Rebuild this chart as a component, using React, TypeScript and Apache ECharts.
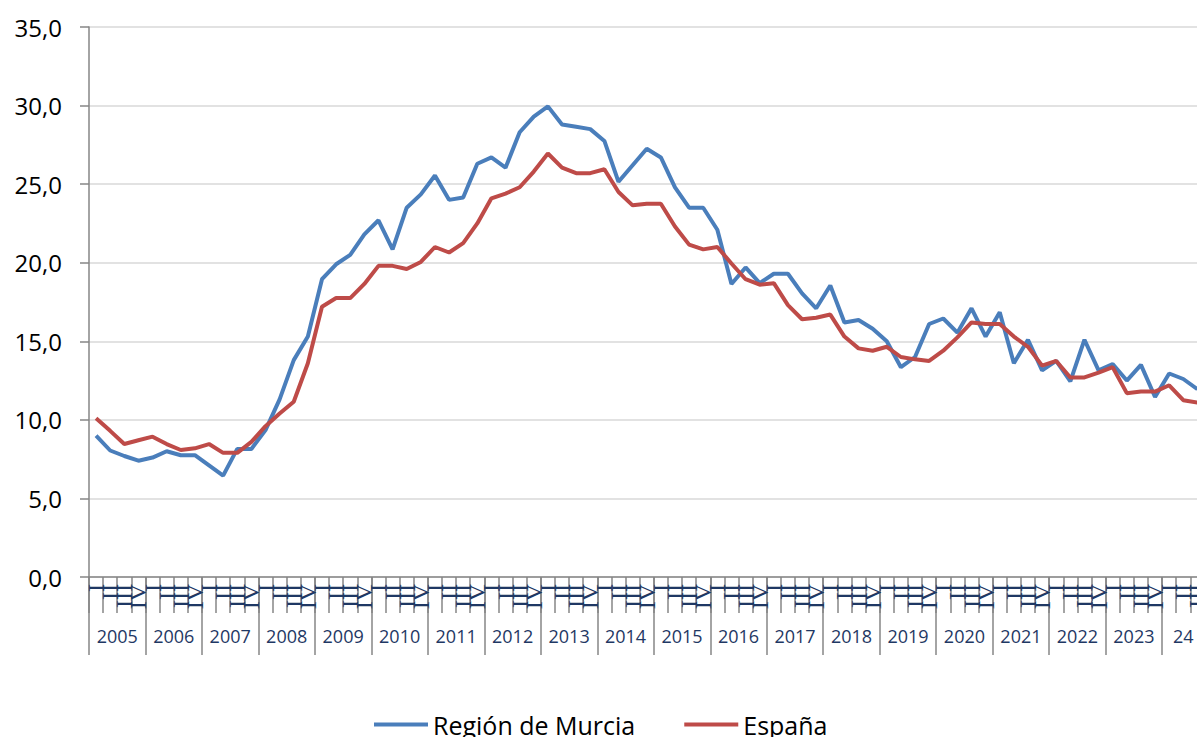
import React, { useEffect, useRef } from "react";
import * as echarts from "echarts";

const quarterLabels = ["I", "II", "III", "IV"];
const yearLabels = [
  "2005", "2006", "2007", "2008", "2009", "2010", "2011", "2012", "2013", "2014",
  "2015", "2016", "2017", "2018", "2019", "2020", "2021", "2022", "2023", "24",
];
const quartersInLastYear = 3;

const murcia = [
  9.0, 8.05, 7.7, 7.4,
  7.6, 8.0, 7.75, 7.75,
  7.1, 6.45, 8.15, 8.15,
  9.35, 11.3, 13.8, 15.3,
  18.95, 19.9, 20.5, 21.8,
  22.7, 20.85, 23.5, 24.35,
  25.55, 24.0, 24.15, 26.3,
  26.7, 26.05, 28.3, 29.3,
  29.95, 28.8, 28.65, 28.5,
  27.75, 25.15, 26.2, 27.25,
  26.7, 24.8, 23.5, 23.5,
  22.1, 18.65, 19.7, 18.7,
  19.3, 19.3, 18.05, 17.1,
  18.55, 16.2, 16.35, 15.8,
  15.0, 13.35, 14.0, 16.1,
  16.45, 15.55, 17.1, 15.3,
  16.85, 13.6, 15.1, 13.15,
  13.75, 12.45, 15.1, 13.15,
  13.55, 12.5, 13.5, 11.45,
  12.95, 12.6, 11.95,
];

const espana = [
  10.1, 9.3, 8.46, 8.7,
  8.93, 8.46, 8.08, 8.19,
  8.46, 7.9, 7.9, 8.6,
  9.6, 10.4, 11.15, 13.6,
  17.2, 17.75, 17.75, 18.65,
  19.8, 19.8, 19.6, 20.05,
  21.0, 20.65, 21.25, 22.5,
  24.1, 24.4, 24.8, 25.8,
  26.95, 26.05, 25.7, 25.7,
  25.95, 24.5, 23.65, 23.75,
  23.75, 22.3, 21.15, 20.85,
  21.0, 19.95, 18.95, 18.6,
  18.7, 17.3, 16.4, 16.5,
  16.7, 15.3, 14.55, 14.4,
  14.65, 14.0, 13.85, 13.75,
  14.4, 15.25, 16.2, 16.1,
  16.1, 15.3, 14.65, 13.45,
  13.75, 12.7, 12.7, 13.0,
  13.35, 11.7, 11.8, 11.8,
  12.2, 11.25, 11.1,
];

const seriesNames = ["Región de Murcia", "España"];
const seriesColors = ["#4A7EBB", "#BE4B48"];

export default function App() {
  const ref = useRef<HTMLDivElement>(null);

  useEffect(() => {
    if (!ref.current) return;
    const chart = echarts.init(ref.current, undefined, { renderer: "svg" });

    const nQuarters = murcia.length;
    const categories: string[] = [];
    for (let i = 0; i < nQuarters; i++) categories.push(quarterLabels[i % 4]);

    const yearBoundaries: number[] = [];
    const yearCenters: number[] = [];
    let start = 0;
    yearLabels.forEach((_, k) => {
      const len = k === yearLabels.length - 1 ? quartersInLastYear : 4;
      yearBoundaries.push(start);
      yearCenters.push(start + len / 2);
      start += len;
    });

    const grey = "#868686";
    const font = "'Open Sans', 'Noto Sans', sans-serif";

    chart.setOption({
      animation: false,
      backgroundColor: "#ffffff",
      grid: { left: 89, top: 27, width: 14.12 * nQuarters, height: 550, containLabel: false },
      legend: {
        data: seriesNames,
        left: 369,
        top: 707,
        icon: "rect",
        itemWidth: 54,
        itemHeight: 4,
        itemGap: 49,
        textStyle: { fontSize: 25, color: "#000000", fontFamily: font },
      },
      xAxis: [
        {
          type: "category",
          data: categories,
          boundaryGap: true,
          axisLine: { show: true, lineStyle: { color: grey, width: 1.5 } },
          axisTick: { show: true, interval: 0, length: 36, lineStyle: { color: grey, width: 1.5 } },
          axisLabel: {
            interval: 0,
            rotate: 90,
            margin: 7,
            fontSize: 24,
            fontFamily: "'Liberation Serif', serif",
            color: "#1F3864",
          },
          splitLine: { show: false },
        },
        {
          type: "value",
          min: 0,
          max: nQuarters,
          position: "bottom",
          axisLine: { show: false },
          splitLine: { show: false },
          axisTick: {
            show: true,
            customValues: yearBoundaries,
            length: 78,
            lineStyle: { color: grey, width: 1.5 },
          },
          axisLabel: {
            customValues: yearCenters,
            margin: 50,
            fontSize: 18,
            fontFamily: font,
            color: "#1F3864",
            formatter: (v: number) => {
              const k = yearCenters.findIndex((c) => Math.abs(c - v) < 0.01);
              return k >= 0 ? yearLabels[k] : "";
            },
          },
        },
      ],
      yAxis: {
        type: "value",
        min: 0,
        max: 35,
        interval: 5,
        axisLine: { show: true, lineStyle: { color: grey, width: 1.5 } },
        axisTick: { show: true, length: 9, lineStyle: { color: grey, width: 1.5 } },
        axisLabel: {
          margin: 27,
          fontSize: 24,
          fontFamily: font,
          color: "#000000",
          formatter: (v: number) => v.toFixed(1).replace(".", ","),
        },
        splitLine: { show: true, lineStyle: { color: "#D9D9D9", width: 1.5 } },
      },
      series: [
        {
          name: seriesNames[0],
          type: "line",
          data: murcia,
          symbol: "none",
          lineStyle: { width: 4, color: seriesColors[0] },
          itemStyle: { color: seriesColors[0] },
        },
        {
          name: seriesNames[1],
          type: "line",
          data: espana,
          symbol: "none",
          lineStyle: { width: 4, color: seriesColors[1] },
          itemStyle: { color: seriesColors[1] },
        },
      ],
    });

    return () => chart.dispose();
  }, []);

  return (
    <div
      style={{
        position: "fixed",
        left: 0,
        top: 0,
        width: 1197,
        height: 737,
        overflow: "hidden",
        background: "#ffffff",
      }}
    >
      <div ref={ref} style={{ width: 1215, height: 737 }} />
    </div>
  );
}
